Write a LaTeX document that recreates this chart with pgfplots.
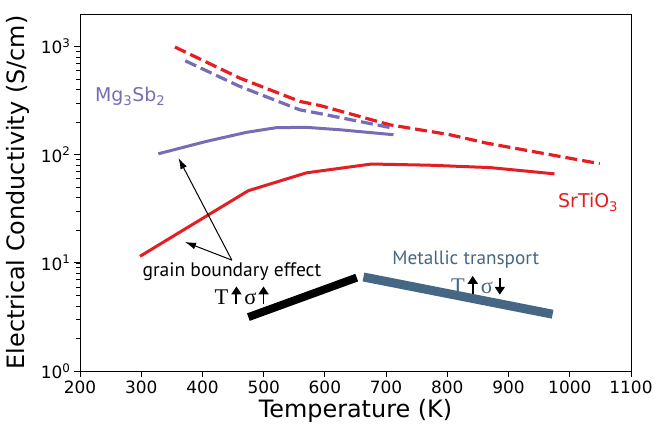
\documentclass[border=0pt]{standalone}
\usepackage{fontspec}
\setmainfont{DejaVu Sans}
\newfontfamily\myriad{PT Sans}
\newfontfamily\serifT{Liberation Serif}
\usepackage{pgfplots}
\pgfplotsset{compat=1.18}
\usetikzlibrary{arrows.meta}
\definecolor{cred}{RGB}{228,30,34}
\definecolor{cpurple}{RGB}{117,110,182}
\definecolor{csteel}{RGB}{70,103,132}
\newsavebox\uabox
\newsavebox\dabox
\begin{document}
\sbox\uabox{\tikz[baseline=0pt]\draw[-{Triangle[length=8bp,width=10bp]}, line width=1.9bp] (0,0bp)--(0,18bp);}%
\sbox\dabox{\tikz[baseline=0pt]\draw[-{Triangle[length=8bp,width=10bp]}, line width=1.9bp] (0,16bp)--(0,-1bp);}%
\begin{tikzpicture}
\begin{axis}[
  scale only axis, width=551bp, height=357bp,
  xmin=200, xmax=1100, ymin=1, ymax=2000, ymode=log,
  xtick={200,300,...,1100},
  ytick={1,10,100,1000},
  yticklabels={10\textsuperscript{0},10\textsuperscript{1},10\textsuperscript{2},10\textsuperscript{3}},
  tick align=outside, tick pos=left,
  major tick length=6bp, minor tick length=3.5bp,
  every tick/.style={black, line width=0.8bp},
  minor tick style={line width=0.6bp},
  axis line style={line width=0.8bp},
  ticklabel style={font=\fontsize{17}{20}\selectfont},
  /pgf/number format/assume math mode=true,
  /pgf/number format/1000 sep={},
  every axis x label/.style={at={(rel axis cs:0.5,0)}, yshift=-40bp, anchor=center, font=\fontsize{24}{28}\selectfont},
  every axis y label/.style={at={(rel axis cs:0,0.5)}, xshift=-62bp, rotate=90, anchor=center, font=\fontsize{24}{28}\selectfont},
  xlabel={Temperature (K)},
  ylabel={Electrical Conductivity (S/cm)},
  clip=false,
]
% SrTiO3 dashed
\addplot[cred, line width=3.2bp, dash pattern=on 12bp off 5bp] coordinates {
 (355,990) (461,511) (559,311) (592,285) (706,189) (804,153) (864,128) (1049,82.6)};
% Mg3Sb2 dashed
\addplot[cpurple, line width=3.2bp, dash pattern=on 12bp off 5bp] coordinates {
 (372,738) (461,428) (559,260) (592,240) (709,177)};
% Mg3Sb2 solid
\addplot[cpurple, line width=3bp] coordinates {
 (328,102) (407,133) (472,161) (521,178) (570,179) (625,170) (712,153)};
% SrTiO3 solid
\addplot[cred, line width=3bp] coordinates {
 (298,11.5) (475,46.5) (570,68) (676,82) (770,80) (870,76) (975,66.5)};
% thick lines
\addplot[black, line width=8bp] coordinates {(475,3.15) (652,7.3)};
\addplot[csteel, line width=9bp] coordinates {(663,7.4) (972,3.35)};
% arrows
\draw[-{Latex[length=11bp,width=7bp]}, line width=1bp] (axis cs:448,10.6) -- (axis cs:371.5,15.6);
\draw[-{Latex[length=11bp,width=7bp]}, line width=1bp] (axis cs:448,10.6) -- (axis cs:361,93);
% labels
\node[cpurple, font=\fontsize{19}{22}\selectfont] at (axis cs:282,344) {Mg\textsubscript{3}Sb\textsubscript{2}};
\node[cred, font=\fontsize{19}{22}\selectfont] at (axis cs:1030,36) {SrTiO\textsubscript{3}};
\node[font=\myriad\fontsize{19.6}{22}\selectfont] at (axis cs:448,8.26) {grain boundary effect};
\node[csteel, font=\myriad\fontsize{19.3}{22}\selectfont] at (axis cs:830,10.8) {Metallic transport};
\node[font=\serifT\fontsize{22.5}{26}\selectfont, inner sep=0pt] at (axis cs:464,5.0) {T\hspace{3bp}\usebox\uabox\hspace{3bp}σ\hspace{2bp}\usebox\uabox};
\node[csteel, font=\serifT\fontsize{22.5}{26}\selectfont, inner sep=0pt] at (axis cs:850,6.2) {\color{csteel}T\hspace{3bp}\usebox\uabox\hspace{3bp}σ\hspace{2bp}\usebox\dabox};
\end{axis}
\pgfresetboundingbox
\path[use as bounding box] ([shift={(-80bp,-56bp)}]current axis.south west) rectangle ([shift={(23bp,14bp)}]current axis.north east);
\end{tikzpicture}
\end{document}
